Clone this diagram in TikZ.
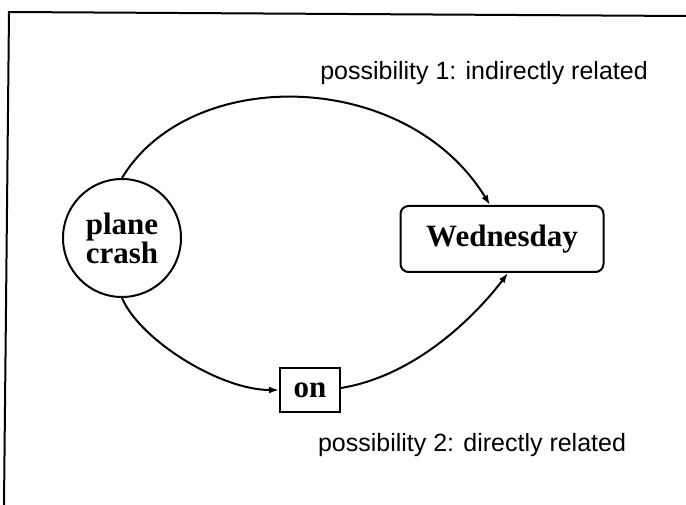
\documentclass[tikz,border=0pt]{standalone}
\usepackage{fontspec}
\setmainfont{Liberation Serif}
\newfontfamily\labelfont{Liberation Sans}
\usetikzlibrary{arrows.meta}
\begin{document}
\begin{tikzpicture}[x=1pt,y=-1pt,
  concept/.style={draw,line width=2pt,font=\fontsize{31}{25}\selectfont\bfseries,align=center,inner sep=0pt},
  link/.style={line width=2pt,-{Latex[length=10pt,width=7pt]}},
  caption/.style={font=\labelfont\fontsize{25}{28}\selectfont,inner sep=0pt}]
\useasboundingbox (0,0) rectangle (686,505);
\fill[white] (0,0) rectangle (686,505);
% frame
\draw[line width=2pt] (686,16) -- (9,12) -- (4,505);
% nodes
\node[concept,circle,minimum size=118pt] (crash) at (122,238) {plane\\crash};
\node[concept,rectangle,rounded corners=8pt,minimum width=203pt,minimum height=66pt] (wed) at (502,239) {Wednesday};
\node[concept,rectangle,minimum width=60pt,minimum height=44pt] (on) at (310,390) {on};
% connectors
\draw[link] (crash.north) .. controls (190,65) and (406,68) .. ([xshift=-12pt]wed.north);
\draw[link] (crash.south) .. controls (140,340) and (220,390) .. (on.west);
\draw[link] ([yshift=2pt]on.east) .. controls (420,375) and (480,310) .. ([xshift=6pt]wed.south);
% labels
\node[caption] (lab1) at (484,73) {possibility 1: indirectly related};
\node[caption] (lab2) at (472,445) {possibility 2: directly related};
\end{tikzpicture}
\end{document}
